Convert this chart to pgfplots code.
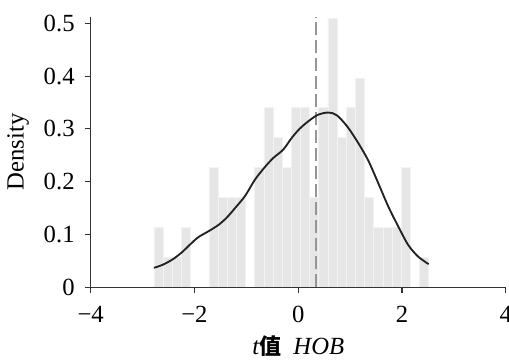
\documentclass[border=0pt]{standalone}
\usepackage{fontspec}
\setmainfont{Liberation Serif}
\newfontfamily\cjk{Noto Sans CJK SC}
\usepackage{pgfplots}
\pgfplotsset{compat=1.18}
\definecolor{barfill}{RGB}{230,230,230}
\definecolor{baredge}{RGB}{243,243,243}
\definecolor{dashgray}{RGB}{150,150,150}
\definecolor{curve}{RGB}{35,35,35}
\begin{document}
\fontsize{18.5}{21}\selectfont
\begin{tikzpicture}
\begin{axis}[
  name=ax,
  scale only axis,
  width=311.25pt, height=203pt,
  xmin=-4, xmax=4, ymin=0, ymax=0.5125,
  axis lines=left,
  axis on top,
  axis line style={-, black!80, line width=0.8pt},
  tick style={black!80, line width=0.8pt},
  tick align=outside,
  major tick length=4.5pt,
  xtick={-4,-2,0,2,4},
  xticklabels={−4,−2,0,2,4},
  ytick={0,0.1,0.2,0.3,0.4,0.5},
  yticklabels={0,0.1,0.2,0.3,0.4,0.5},
  ticklabel style={font=\fontsize{18.5}{21}\selectfont},
  xticklabel style={yshift=-3pt},
  yticklabel style={xshift=-1.2pt},
  xlabel={{\itshape t}{\cjk\bfseries\fontsize{16.5}{20}\selectfont 值}\ \ {\itshape HOB}},
  ylabel={Density},
  label style={font=\fontsize{18.5}{21}\selectfont},
  xlabel style={at={(axis description cs:0.5,-0.248)}, anchor=base},
  ylabel style={at={(axis description cs:-0.175,0.5)}, anchor=center, rotate=0},
  clip=false,
]
\addplot[ybar interval, fill=barfill, draw=baredge, line width=0.5pt] coordinates {
(-2.780,0.1133) (-2.6035,0.0567) (-2.427,0.0567) (-2.2505,0.1133)
(-2.074,0) (-1.8975,0) (-1.721,0.2266) (-1.5445,0.170) (-1.368,0.170)
(-1.1915,0.170) (-1.015,0) (-0.8385,0.2266) (-0.662,0.340) (-0.4855,0.2833)
(-0.309,0.2266) (-0.1325,0.340) (0.044,0.340) (0.2205,0.170) (0.397,0.340)
(0.5735,0.510) (0.750,0.2833) (0.9265,0.340) (1.103,0.3966) (1.2795,0.170)
(1.456,0.1133) (1.6325,0.1133) (1.809,0.1133) (1.9855,0.2266) (2.162,0)
(2.3385,0.0567) (2.515,0.0567)
};
\addplot[dashgray, line width=1.4pt, dash pattern=on 10pt off 3.5pt] coordinates {(0.343,0) (0.343,0.5125)};
\addplot[curve, line width=1.4pt, smooth] coordinates {
(-2.78,0.037) (-2.607,0.043) (-2.42,0.053) (-2.246,0.066) (-2.086,0.081)
(-1.926,0.095) (-1.733,0.106) (-1.54,0.118) (-1.378,0.132) (-1.218,0.150)
(-1.025,0.173) (-0.833,0.204) (-0.64,0.228) (-0.48,0.245) (-0.287,0.261)
(-0.125,0.283) (0.035,0.301) (0.228,0.317) (0.388,0.327) (0.58,0.331)
(0.742,0.326) (0.95,0.304) (1.159,0.273) (1.351,0.240) (1.544,0.197)
(1.737,0.153) (1.93,0.115) (2.122,0.080) (2.315,0.058) (2.515,0.044)
};
\end{axis}
\pgfresetboundingbox
\path[use as bounding box] ([shift={(-68pt,-56pt)}]ax.south west) rectangle ([shift={(313.7pt,215.5pt)}]ax.south west);
\end{tikzpicture}
\end{document}
